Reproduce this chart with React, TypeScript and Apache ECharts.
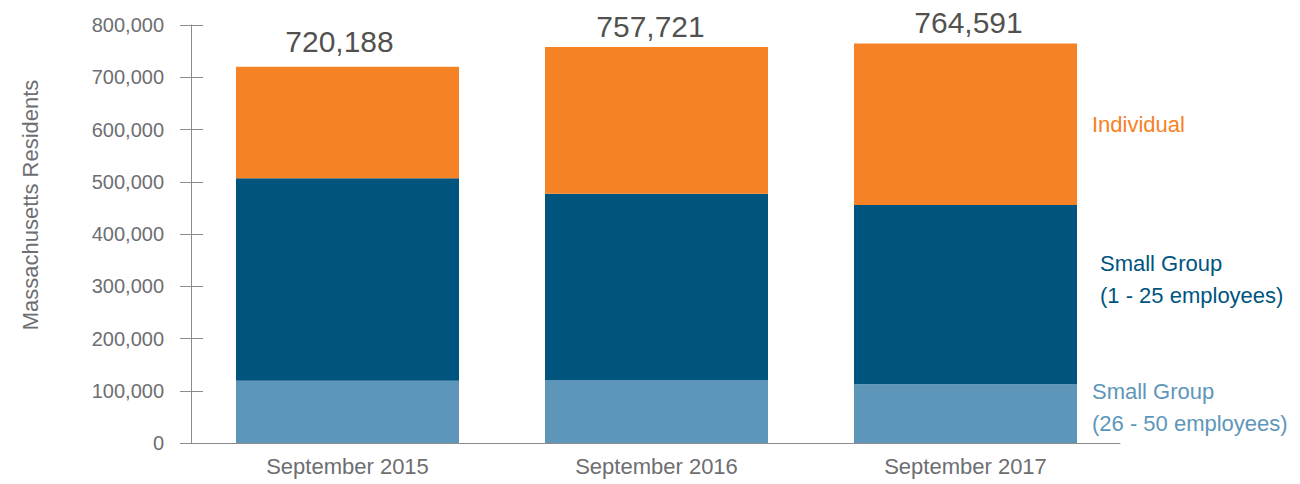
import React, { useEffect, useRef } from "react";
import * as echarts from "echarts";

const categories = ["September 2015", "September 2016", "September 2017"];
const smallGroup2650 = [119200, 120600, 112300];
const smallGroup125 = [387400, 356500, 343200];
const individual = [213588, 280621, 309091];
const totals = [720188, 757721, 764591];
const yTicks = [0, 800000, 100000]; // min, max, interval

const FONT = "'Liberation Sans', Arial, Helvetica, sans-serif";
const GRAY = "#6d6e71";
const AXIS = "#8c8c8c";
const ORANGE = "#F58225";
const DARK = "#00557F";
const LIGHT = "#5E96BA";
const totalOffsets = [
  [-8, -4],
  [-6, 0],
  [3, 0],
];

export default function App() {
  const ref = useRef<HTMLDivElement>(null);
  useEffect(() => {
    document.body.style.margin = "0";
    if (!ref.current) return;
    const chart = echarts.init(ref.current, undefined, { renderer: "svg" });
    const last = categories.length - 1;
    const withEndLabel = (arr: number[], label: any) =>
      arr.map((v, i) => (i === last ? { value: v, label } : v));
    const yAxisBase = {
      type: "value",
      min: yTicks[0],
      max: yTicks[1],
      interval: yTicks[2],
      position: "left",
      offset: 2,
      splitLine: { show: false },
    };
    chart.setOption({
      animation: false,
      textStyle: { fontFamily: FONT },
      grid: { left: 193, width: 927, top: 25, bottom: 41 },
      xAxis: {
        type: "category",
        data: categories,
        axisTick: { show: false },
        axisLine: { lineStyle: { color: AXIS, width: 1 } },
        axisLabel: { color: GRAY, fontSize: 22, margin: 12, fontFamily: FONT },
      },
      yAxis: [
        {
          ...yAxisBase,
          axisLine: { show: true, lineStyle: { color: AXIS, width: 1 } },
          axisTick: { show: true, length: 11, lineStyle: { color: AXIS } },
          axisLabel: {
            color: GRAY,
            fontSize: 20,
            margin: 27,
            fontFamily: FONT,
            formatter: (v: number) => v.toLocaleString("en-US"),
          },
        },
        {
          ...yAxisBase,
          axisLine: { show: false },
          axisTick: { show: true, inside: true, length: 12, lineStyle: { color: AXIS } },
          axisLabel: { show: false },
        },
      ],
      series: [
        {
          name: "Small Group (26 - 50 employees)",
          type: "bar",
          stack: "total",
          barWidth: 223,
          itemStyle: { color: LIGHT },
          data: withEndLabel(smallGroup2650, {
            show: true,
            position: "right",
            distance: 15,
            offset: [0, -6],
            formatter: "Small Group\n(26 - 50 employees)",
            color: LIGHT,
            fontSize: 22,
            lineHeight: 32,
            align: "left",
            fontFamily: FONT,
          }),
        },
        {
          name: "Small Group (1 - 25 employees)",
          type: "bar",
          stack: "total",
          barWidth: 223,
          itemStyle: { color: DARK },
          data: withEndLabel(smallGroup125, {
            show: true,
            position: "right",
            distance: 23,
            offset: [0, -15],
            formatter: "Small Group\n(1 - 25 employees)",
            color: DARK,
            fontSize: 22,
            lineHeight: 32,
            align: "left",
            fontFamily: FONT,
          }),
        },
        {
          name: "Individual",
          type: "bar",
          stack: "total",
          barWidth: 223,
          itemStyle: { color: ORANGE },
          data: withEndLabel(individual, {
            show: true,
            position: "right",
            distance: 15,
            formatter: "Individual",
            color: ORANGE,
            fontSize: 22,
            fontFamily: FONT,
          }),
        },
        {
          name: "Total",
          type: "scatter",
          symbolSize: 0,
          silent: true,
          itemStyle: { color: "transparent" },
          label: {
            show: true,
            position: "top",
            distance: 6,
            color: "#231f20",
            fontSize: 30,
            fontFamily: FONT,
            formatter: (p: any) => Number(p.value).toLocaleString("en-US"),
          },
          data: totals.map((v, i) => ({ value: v, label: { offset: totalOffsets[i] } })),
        },
      ],
      graphic: [
        {
          type: "text",
          x: 30,
          y: 205,
          rotation: Math.PI / 2,
          style: {
            text: "Massachusetts Residents",
            fill: GRAY,
            fontSize: 22,
            fontFamily: FONT,
            textAlign: "center",
            textVerticalAlign: "middle",
          },
        },
      ],
    });
    return () => chart.dispose();
  }, []);
  return <div ref={ref} style={{ width: 1300, height: 484 }} />;
}
